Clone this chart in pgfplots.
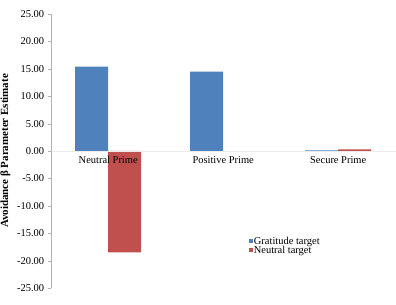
\documentclass[border=0pt]{standalone}
\usepackage{pgfplots}
\pgfplotsset{compat=1.18}
\usepackage{fontspec}
\setmainfont{Liberation Serif}
\definecolor{xblue}{HTML}{4F81BD}
\definecolor{xred}{HTML}{C0504D}
\begin{document}
\begin{tikzpicture}
\useasboundingbox (0,0) rectangle (396bp,305bp);
\begin{axis}[
  at={(50.7bp,17bp)}, anchor=south west,
  scale only axis, width=345bp, height=274bp,
  xmin=-0.5, xmax=2.5, ymin=-25, ymax=25,
  axis on top,
  axis y line=left, axis x line=middle,
  y axis line style={-, draw=gray!60},
  x axis line style={-, draw=gray!15},
  ytick={-25,-20,...,25},
  yticklabel style={/pgf/number format/.cd, fixed, fixed zerofill, precision=2},
  /pgf/number format/assume math mode=true,
  tick align=outside,
  major tick length=3bp,
  ytick style={draw=gray!60},
  xtick={0,1,2},
  xticklabels={Neutral Prime, Positive Prime, Secure Prime},
  major x tick style={draw=none},
  extra x ticks={0.5,1.5},
  extra x tick labels={},
  extra x tick style={major tick style={draw=gray!50}, tick align=center},
  ticklabel style={font=\fontsize{10.5}{12}\selectfont},
  xticklabel style={yshift=1bp},
  ylabel={\bfseries Avoidance β Parameter Estimate},
  ylabel style={at={(axis description cs:-0.131,0.5)}, anchor=center, rotate=0, font=\fontsize{11}{12}\selectfont},
  ybar=0pt, bar width=33bp,
  legend style={at={(axis description cs:0.565,0.197)}, anchor=north west, draw=none, fill=none,
    font=\fontsize{10.5}{10}\selectfont, row sep=-1bp,
    nodes={inner sep=0.6pt}},
  legend cell align=left,
  legend image code/.code={\fill[#1] (0bp,-2bp) rectangle (4.5bp,2.5bp);},
]
\addplot[fill=xblue, draw=none] coordinates {(0,15.4) (1,14.5) (2,0.1)};
\addplot[fill=xred, draw=none] coordinates {(0,-18.5) (2,0.3)};
\legend{Gratitude target, Neutral target}
\end{axis}
\end{tikzpicture}
\end{document}
